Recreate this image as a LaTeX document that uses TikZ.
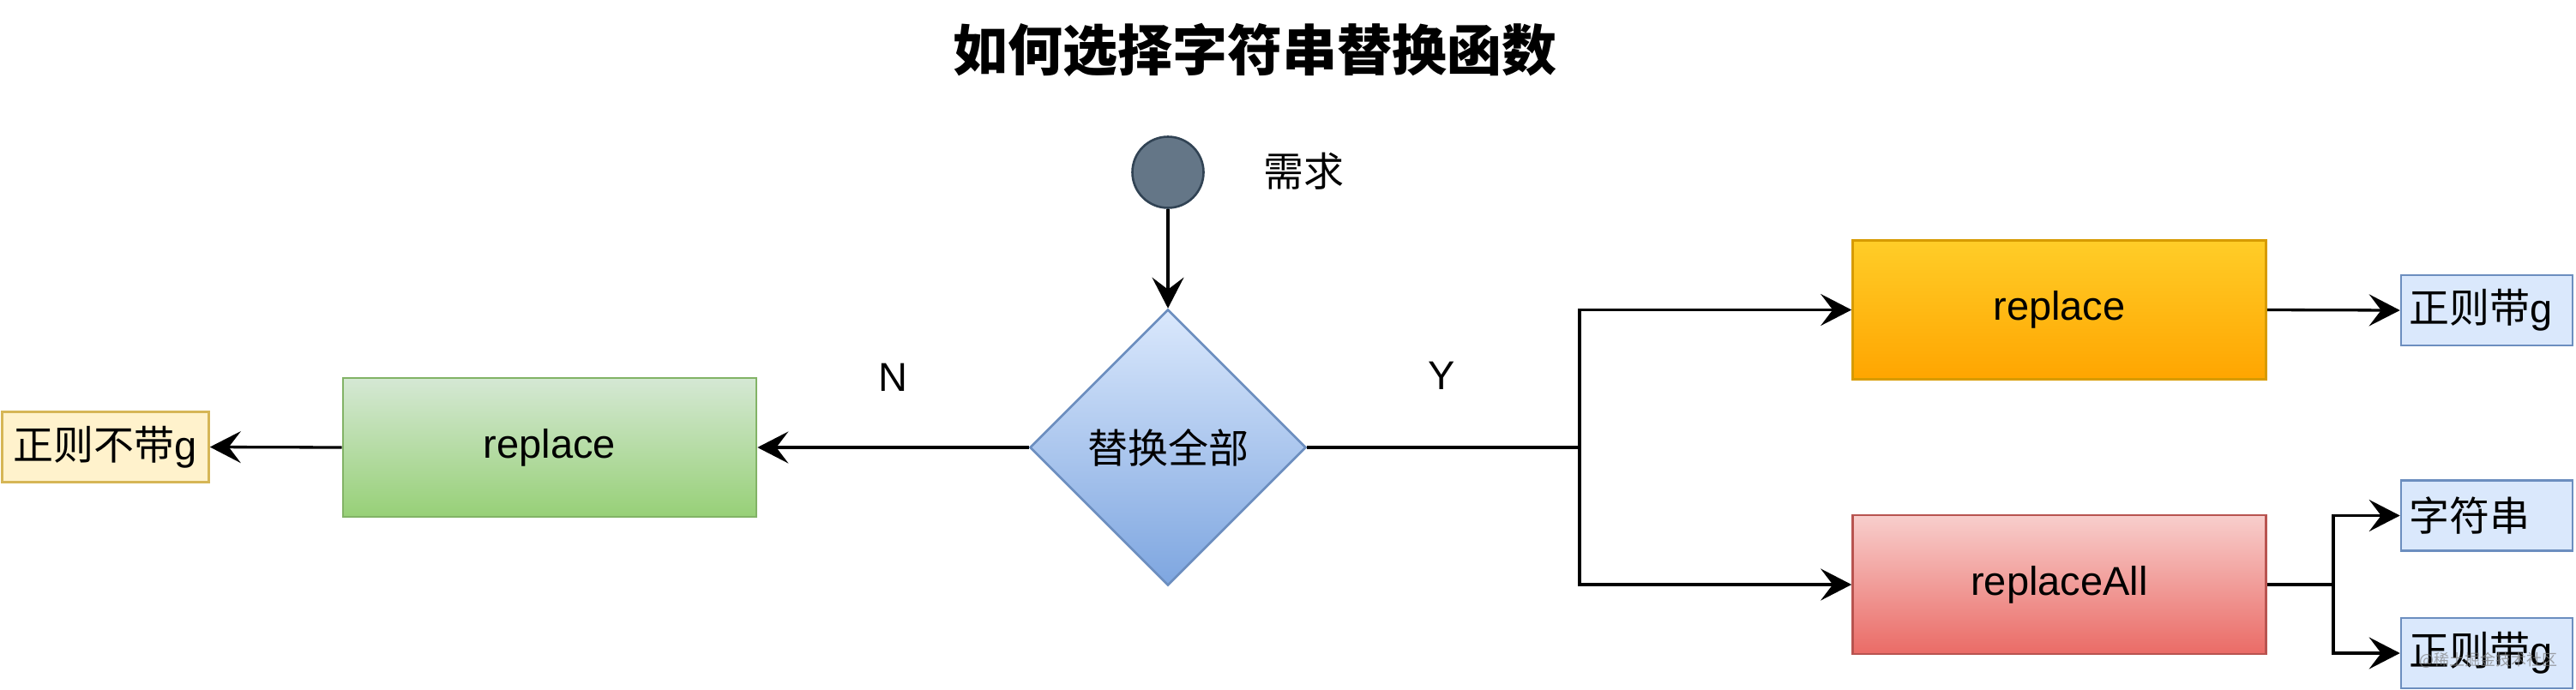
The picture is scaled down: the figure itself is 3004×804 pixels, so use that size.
\documentclass[tikz,border=0pt]{standalone}
\usepackage{fontspec}
\setmainfont{Liberation Sans}
\newfontfamily\cjk{Noto Sans CJK SC}
\usetikzlibrary{shapes.geometric,arrows.meta}
\definecolor{gTop}{HTML}{D5E8D4}\definecolor{gBot}{HTML}{97D077}\definecolor{gLine}{HTML}{82B366}
\definecolor{oTop}{HTML}{FFCD28}\definecolor{oBot}{HTML}{FFA500}\definecolor{oLine}{HTML}{D79B00}
\definecolor{rTop}{HTML}{F8CECC}\definecolor{rBot}{HTML}{EA6B66}\definecolor{rLine}{HTML}{B85450}
\definecolor{bTop}{HTML}{DAE8FC}\definecolor{bBot}{HTML}{7EA6E0}\definecolor{bLine}{HTML}{6C8EBF}
\definecolor{yFill}{HTML}{FFF2CC}\definecolor{yLine}{HTML}{D6B656}
\definecolor{cFill}{HTML}{647687}\definecolor{cLine}{HTML}{314354}
\tikzset{
  txt/.style={font=\fontsize{47}{56}\selectfont, inner sep=0pt, text=black},
  shapebase/.style={txt, draw, line width=2.6pt},
  bigbox/.style={shapebase, rectangle, minimum width=482pt, minimum height=162pt},
  greenbox/.style={bigbox, top color=gTop, bottom color=gBot, draw=gLine},
  orangebox/.style={bigbox, top color=oTop, bottom color=oBot, draw=oLine},
  redbox/.style={bigbox, top color=rTop, bottom color=rBot, draw=rLine},
  bluebox/.style={shapebase, rectangle, fill=bTop, draw=bLine, minimum height=82pt,
    text width=182pt, inner xsep=9pt, align=left},
  yellowbox/.style={shapebase, rectangle, fill=yFill, draw=yLine, minimum width=241pt, minimum height=82pt},
  decision/.style={shapebase, diamond, aspect=1, minimum width=322pt, minimum height=322pt,
    top color=bTop, bottom color=bBot, draw=bLine},
  startdot/.style={circle, draw=cLine, fill=cFill, line width=2.6pt, minimum size=83pt, inner sep=0pt},
  flow/.style={line width=3.3pt, draw=black, -{Stealth[length=36pt,width=37pt,inset=14pt]}},
  link/.style={line width=3.3pt, draw=black},
  titletext/.style={font=\fontsize{64}{76}\selectfont\cjk\bfseries, inner sep=0pt, text=black},
  wmark/.style={font=\fontsize{18}{20}\selectfont\cjk, inner sep=0pt, text=gray, opacity=0.7}
}
\begin{document}
\begin{tikzpicture}[x=1pt,y=-1pt]
\fill[white] (0,0) rectangle (3004,804);
\useasboundingbox (0,0) rectangle (3004,804);

\node[titletext] (title) at (1463,58) {如何选择字符串替换函数};

\node[startdot] (start) at (1362,201) {};
\node[txt] (need) at (1520,200) {\cjk 需求};
\node[decision] (dec) at (1362,522) {\cjk 替换全部};

\node[greenbox] (rep1) at (641,522) {replace};
\node[yellowbox] (nog) at (123,521.5) {{\cjk 正则不带}g};

\node[orangebox] (rep2) at (2401.5,361.5) {replace};
\node[redbox] (repall) at (2401.5,682) {replaceAll};

\node[bluebox] (g1) at (2900,362) {{\cjk 正则带}g};
\node[bluebox] (str) at (2900,601.5) {\cjk 字符串};
\node[bluebox] (g2) at (2900,762) {{\cjk 正则带}g};

\node[txt] (N) at (1041,440) {N};
\node[txt] (Y) at (1681,438) {Y};

\coordinate (j1) at (1842,522);
\coordinate (j2) at (2721,682);

\draw[flow] (start) -- (dec.north);
\draw[flow] (dec.west) -- (rep1.east);
\draw[flow] (rep1.west) -- (nog.east);
\draw[link] (dec.east) -- (j1);
\draw[flow] (j1) |- (rep2.west);
\draw[flow] (j1) |- (repall.west);
\draw[flow] (rep2.east) -- (g1.west);
\draw[link] (repall.east) -- (j2);
\draw[flow] (j2) |- (str.west);
\draw[flow] (j2) |- (g2.west);

\node[wmark] (wm) at (2902,770) {@稀土掘金技术社区};
\end{tikzpicture}
\end{document}
